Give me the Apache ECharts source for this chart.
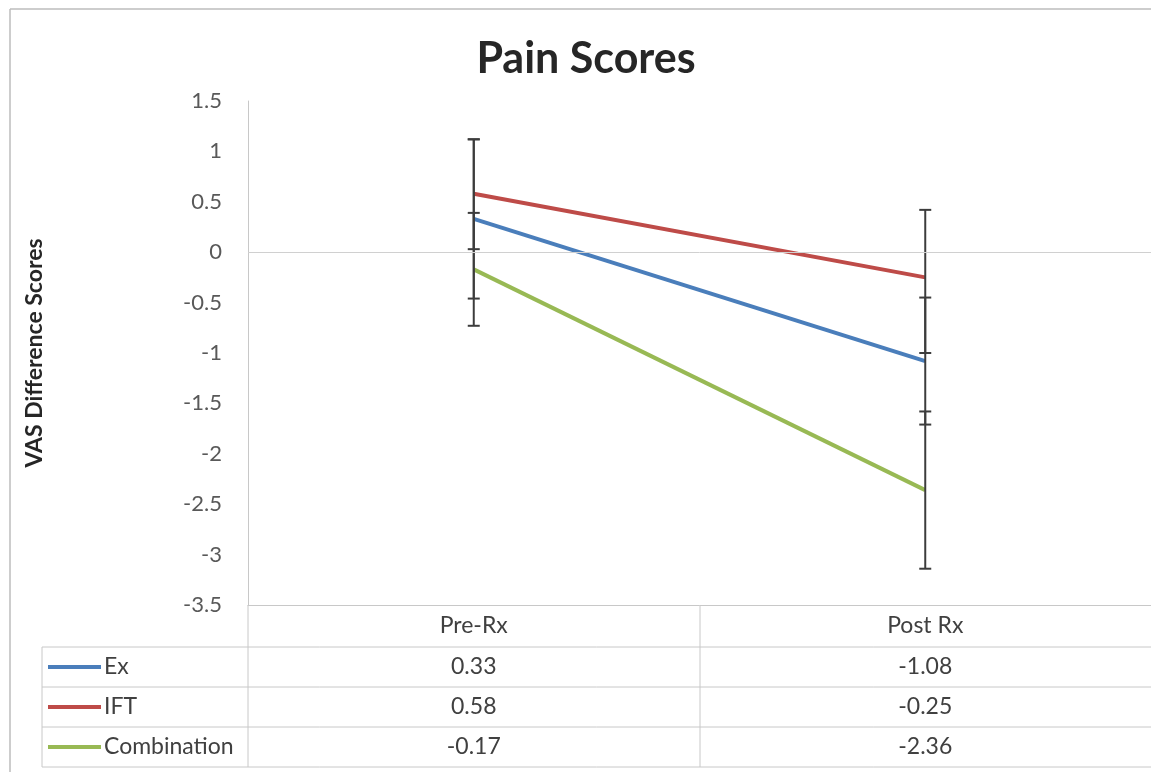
<!DOCTYPE html>
<html>
<head>
<meta charset="utf-8">
<script src="https://cdn.jsdelivr.net/npm/echarts@6/dist/echarts.min.js"></script>
<style>
html, body { margin: 0; padding: 0; background: #fff; }
#chart { width: 1151px; height: 772px; }
</style>
</head>
<body>
<div id="chart"></div>
<script>
var categories = ['Pre-Rx', 'Post Rx'];
var seriesNames = ['Ex', 'IFT', 'Combination'];
var exValues = [0.33, -1.08];
var iftValues = [0.58, -0.25];
var comboValues = [-0.17, -2.36];
// error bar ends [low, high] for each category
var exErr = [[-0.46, 1.12], [-1.71, -0.45]];
var iftErr = [[0.03, 1.12], [-1.0, 0.42]];
var comboErr = [[-0.73, 0.39], [-3.14, -1.58]];

var colors = ['#4A7EBB', '#BE4B48', '#98B954'];
var allValues = [exValues, iftValues, comboValues];
var allErr = [exErr, iftErr, comboErr];
var font = 'Lato, "Open Sans", sans-serif';

var errData = [];
allErr.forEach(function (e) {
    e.forEach(function (pair, i) {
        errData.push([i, pair[0], pair[1]]);
    });
});

function renderErr(params, api) {
    var x = api.value(0);
    var lo = api.coord([x, api.value(1)]);
    var hi = api.coord([x, api.value(2)]);
    var w = 6;
    var st = { stroke: '#3c3c3c', lineWidth: 2 };
    return {
        type: 'group',
        children: [
            { type: 'line', shape: { x1: lo[0], y1: lo[1], x2: hi[0], y2: hi[1] }, style: st },
            { type: 'line', shape: { x1: lo[0] - w, y1: lo[1], x2: lo[0] + w, y2: lo[1] }, style: st },
            { type: 'line', shape: { x1: hi[0] - w, y1: hi[1], x2: hi[0] + w, y2: hi[1] }, style: st }
        ]
    };
}

var chart = echarts.init(document.getElementById('chart'));

var series = seriesNames.map(function (name, k) {
    return {
        name: name,
        type: 'line',
        data: allValues[k],
        symbol: 'none',
        lineStyle: { color: colors[k], width: 4 },
        itemStyle: { color: colors[k] },
        z: 3
    };
});
series.push({
    type: 'custom',
    renderItem: renderErr,
    data: errData,
    z: 4,
    markLine: {
        silent: true,
        symbol: 'none',
        label: { show: false },
        lineStyle: { color: '#d0d0d0', type: 'solid', width: 1 },
        data: [{ yAxis: 0 }]
    }
});

var option = {
    animation: false,
    backgroundColor: '#fff',
    title: {
        text: 'Pain Scores',
        left: 581,
        top: 33,
        textAlign: 'center',
        textStyle: { fontFamily: font, fontSize: 43, fontWeight: 'bold', color: '#262626' }
    },
    grid: { left: 248, right: 0, top: 101, bottom: 167 },
    xAxis: {
        type: 'category',
        data: categories,
        boundaryGap: true,
        axisLine: { onZero: false, lineStyle: { color: '#c8c8c8', width: 1 } },
        axisTick: { show: false },
        axisLabel: { fontFamily: font, fontSize: 23, color: '#404040', margin: 9 }
    },
    yAxis: {
        type: 'value',
        min: -3.5,
        max: 1.5,
        interval: 0.5,
        name: 'VAS Difference Scores',
        nameLocation: 'middle',
        nameRotate: 90,
        nameGap: 202,
        nameTextStyle: { fontFamily: font, fontSize: 23, fontWeight: 'bold', color: '#262626' },
        axisLine: { show: true, lineStyle: { color: '#c8c8c8', width: 1 } },
        axisTick: { show: false },
        splitLine: { show: false },
        axisLabel: { fontFamily: font, fontSize: 22, color: '#595959', margin: 26 }
    },
    series: series
};
chart.setOption(option);

// data table under the plot, columns placed from the category axis
var tableTop = 605, headerH = 42, rowH = 40, legendLeft = 42, plotLeft = 248, rightEdge = 1151;
var lineCol = '#c8c8c8';
var g = [];
function hline(y, x1, x2) {
    g.push({ type: 'line', shape: { x1: x1, y1: y, x2: x2, y2: y }, style: { stroke: lineCol, lineWidth: 1 } });
}
function vline(x, y1, y2) {
    g.push({ type: 'line', shape: { x1: x, y1: y1, x2: x, y2: y2 }, style: { stroke: lineCol, lineWidth: 1 } });
}
var rowsTop = tableTop + headerH;
var tableBottom = rowsTop + rowH * seriesNames.length;
for (var r = 0; r <= seriesNames.length; r++) hline(rowsTop + r * rowH, legendLeft, rightEdge);
vline(legendLeft, rowsTop, tableBottom);
vline(plotLeft, tableTop, tableBottom);
var c0 = chart.convertToPixel({ xAxisIndex: 0 }, 0);
var c1 = chart.convertToPixel({ xAxisIndex: 0 }, 1);
vline(Math.round((c0 + c1) / 2), tableTop, tableBottom);

g.push({ type: 'line', shape: { x1: 10, y1: 9, x2: 1151, y2: 9 }, style: { stroke: '#bdbdbd', lineWidth: 1.5 } });
g.push({ type: 'line', shape: { x1: 10, y1: 9, x2: 10, y2: 772 }, style: { stroke: '#bdbdbd', lineWidth: 1.5 } });

seriesNames.forEach(function (name, k) {
    var cy = rowsTop + k * rowH + rowH / 2;
    g.push({ type: 'line', shape: { x1: 48, y1: cy, x2: 101, y2: cy }, style: { stroke: colors[k], lineWidth: 4 } });
    g.push({ type: 'text', x: 104, y: cy, style: { text: name, fontFamily: font, fontSize: 23, fill: '#404040', verticalAlign: 'middle', align: 'left' } });
    allValues[k].forEach(function (v, i) {
        var cx = chart.convertToPixel({ xAxisIndex: 0 }, i);
        g.push({ type: 'text', x: cx, y: cy, style: { text: v.toFixed(2), fontFamily: font, fontSize: 23, fill: '#404040', verticalAlign: 'middle', align: 'center' } });
    });
});
chart.setOption({ graphic: g });
</script>
</body>
</html>
